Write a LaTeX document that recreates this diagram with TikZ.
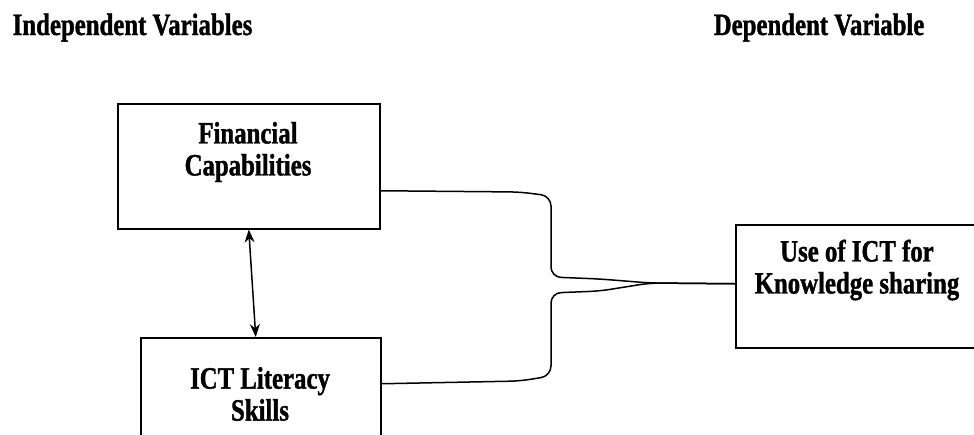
\documentclass[tikz,border=0pt]{standalone}
\usepackage{fontspec}
\newfontfamily\boxfont{Liberation Serif}[FakeStretch=0.8, FakeBold=1.2]
\usetikzlibrary{arrows.meta}

\begin{document}
\begin{tikzpicture}[x=1pt, y=-1pt, line width=1.5pt]
	\tikzstyle{varbox}=[draw, rectangle, inner sep=0pt, anchor=north west]
	\tikzstyle{varlabel}=[font=\boxfont\bfseries\fontsize{31}{32}\selectfont, align=center, inner sep=0pt]
	\tikzstyle{heading}=[font=\boxfont\bfseries\fontsize{31}{32}\selectfont, anchor=base west, inner sep=0pt]
	\tikzstyle{link}=[rounded corners=10pt]
	\clip (0,0) rectangle (974,434);
	% headings
	\node [heading] (indep) at (12,35) {Independent Variables};
	\node [heading] (dep) at (713,35) {Dependent Variable};
	% boxes
	\node [varbox, minimum width=262pt, minimum height=125pt] (fin) at (117,103) {};
	\node [varbox, minimum width=240pt, minimum height=123pt] (lit) at (140,337) {};
	\node [varbox, minimum width=250pt, minimum height=123pt] (use) at (735,224) {};
	\node [varlabel] (finlbl) at (248,152) {Financial\\Capabilities};
	\node [varlabel] (litlbl) at (260,394) {ICT Literacy\\Skills};
	\node [varlabel] (uselbl) at (857,270) {Use of ICT for\\Knowledge sharing};
	% relations
	\draw [{Stealth[length=13pt, width=10pt]}-{Stealth[length=13pt, width=10pt]}] (fin.south) -- ([xshift=-5pt]lit.north);
	\draw [link] ([yshift=-24.5pt]fin.east) -- (520,192) -- (551,196) -- (551,277) -- (600,279) -- (650,283) -- ([yshift=2.5pt]use.west);
	\draw [link] ([yshift=15.5pt]lit.east) -- (520,381) -- (551,376) -- (551,293) -- (600,291) -- (650,283) -- ([yshift=2.5pt]use.west);
\end{tikzpicture}
\end{document}
